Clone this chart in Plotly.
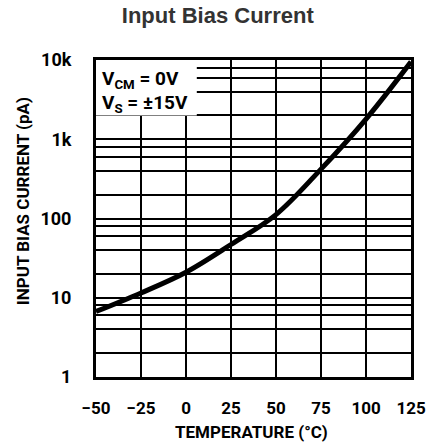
import plotly.graph_objects as go

# ---- data ----
temps_C = [-50, -25, 0, 25, 50, 75, 100, 125]
bias_pA = [6.7, 11.5, 21, 47, 112, 420, 1800, 9500]

x_tick_vals = [-50, -25, 0, 25, 50, 75, 100, 125]
x_tick_labels = ["\u221250", "\u221225", "0", "25", "50", "75", "100", "125"]

y_grid_vals = [1, 2, 4, 6, 8, 10, 20, 40, 60, 80, 100, 200, 400, 600, 800,
               1000, 2000, 4000, 6000, 8000, 10000]
y_decade_labels = {1: "1", 10: "10", 100: "100", 1000: "1k", 10000: "10k"}
y_tick_labels = [y_decade_labels.get(v, "") for v in y_grid_vals]

FONT = "Roboto, Liberation Sans, Arial, sans-serif"

fig = go.Figure()
fig.add_trace(go.Scatter(
    x=temps_C, y=bias_pA, mode="lines",
    line=dict(color="black", width=5, shape="spline", smoothing=1.0),
    hoverinfo="skip", showlegend=False,
))

# white box hiding grid behind the conditions text
fig.add_shape(type="rect", xref="x", yref="y", x0=-50, x1=6, y0=2000, y1=10000,
              fillcolor="white", line=dict(width=0), layer="between")

# annotation y on a log axis is given in log10 units
fig.add_annotation(xref="x", yref="y", x=-47.8, y=3.75,
                   text="V<sub>CM</sub> = 0V", showarrow=False,
                   xanchor="left", yanchor="middle",
                   font=dict(family=FONT, size=19, color="black", weight="bold"))
fig.add_annotation(xref="x", yref="y", x=-47.8, y=3.455,
                   text="V<sub>S</sub> = \u00b115V", showarrow=False,
                   xanchor="left", yanchor="middle",
                   font=dict(family=FONT, size=19, color="black", weight="bold"))

# axis titles
fig.add_annotation(xref="paper", yref="paper", x=-0.229, y=0.554,
                   text="INPUT BIAS CURRENT (pA)", textangle=-90, showarrow=False,
                   xanchor="center", yanchor="middle",
                   font=dict(family=FONT, size=17, color="black", weight="bold"))
fig.add_annotation(xref="paper", yref="paper", x=0.495, y=-0.172,
                   text="TEMPERATURE (\u00b0C)", showarrow=False,
                   xanchor="center", yanchor="middle",
                   font=dict(family=FONT, size=17, color="black", weight="bold"))

fig.update_layout(
    width=427, height=448,
    margin=dict(l=96, r=16, t=60, b=71, autoexpand=False),
    paper_bgcolor="white", plot_bgcolor="white",
    title=dict(text="Input Bias Current", x=0.51, xanchor="center",
               y=1 - 15.5 / 448, yanchor="middle",
               font=dict(family="Liberation Sans, Arial, sans-serif", size=22,
                         color="#333333", weight="bold")),
)
fig.update_xaxes(
    range=[-50, 125], tickvals=x_tick_vals, ticktext=x_tick_labels,
    showgrid=True, gridcolor="black", gridwidth=2,
    showline=True, linecolor="black", linewidth=3, mirror=True,
    ticks="", ticklabelstandoff=14, zeroline=False, automargin=False,
    ticklabeloverflow="allow",
    tickfont=dict(family=FONT, size=17, color="black", weight="bold"),
)
fig.update_yaxes(
    type="log", range=[0, 4], tickvals=y_grid_vals, ticktext=y_tick_labels,
    showgrid=True, gridcolor="black", gridwidth=2,
    showline=True, linecolor="black", linewidth=3, mirror=True,
    ticks="outside", ticklen=10, tickcolor="rgba(0,0,0,0)",
    ticklabelstandoff=8, ticklabelposition="outside",
    zeroline=False, automargin=False,
    tickfont=dict(family=FONT, size=18, color="black", weight="bold"),
)

fig.write_html(
    "out.html",
    config={"displayModeBar": False},
    post_script="document.body.style.margin='0';document.body.style.overflow='hidden';",
)
